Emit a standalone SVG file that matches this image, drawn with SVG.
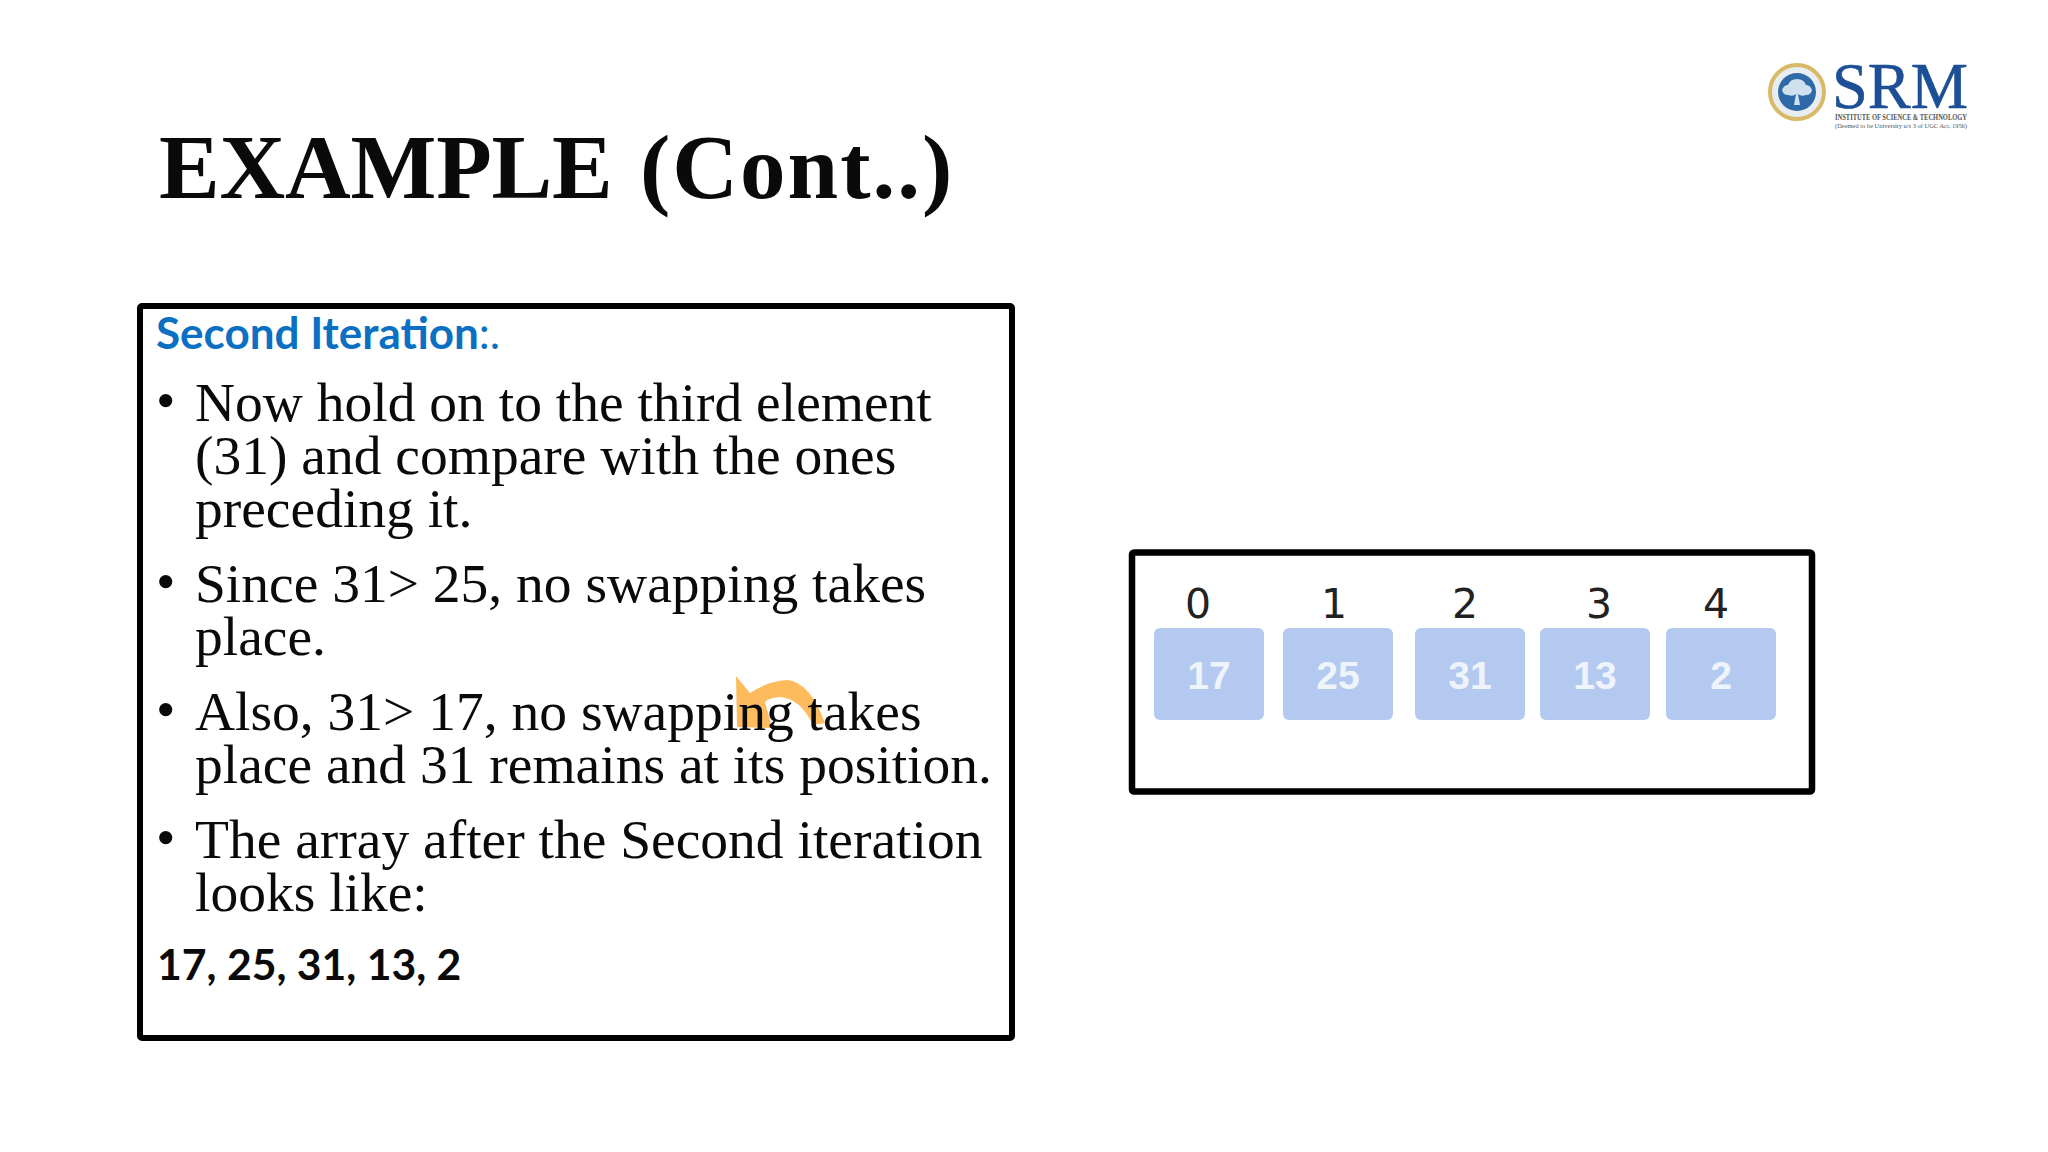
<svg xmlns="http://www.w3.org/2000/svg" width="2048" height="1152" viewBox="0 0 2048 1152">
<style>
.t{font-family:"Liberation Serif","Times New Roman",serif;font-size:55.5px;fill:#0a0a0a}
.f{fill:none;stroke:#000;stroke-width:6}
.c{fill:#b4c9ef}
.v{font-family:"Liberation Sans",Arial,sans-serif;font-size:39px;font-weight:bold;fill:#eef3fc;text-anchor:middle}
.i{font-family:"DejaVu Sans",sans-serif;font-size:41px;fill:#222;text-anchor:middle}
</style>
<rect width="2048" height="1152" fill="#fff"/>
<g id="logo">
<circle cx="1797" cy="92" r="27" fill="#e6eef4" stroke="#d9b866" stroke-width="4"/>
<circle cx="1797" cy="92" r="19" fill="#2f6aa8"/>
<path d="M1782 90q2-5 6-5q2-6 9-6q7 0 9 6q4 0 6 5q-1 5-6 5q-5 2-8-1l2 11h-6l2-11q-3 3-8 1q-5 0-6-5z" fill="#cfe0ee"/>
<text x="1832" y="108" font-family="Liberation Serif,serif" font-size="66" fill="#1c4f96" stroke="#1c4f96" stroke-width="0.6" textLength="136" lengthAdjust="spacingAndGlyphs">SRM</text>
<text x="1835" y="120" font-family="Liberation Serif,serif" font-size="8" font-weight="bold" fill="#555" textLength="132" lengthAdjust="spacingAndGlyphs">INSTITUTE OF SCIENCE &amp; TECHNOLOGY</text>
<text x="1835" y="128" font-family="Liberation Serif,serif" font-size="7" fill="#555" textLength="132" lengthAdjust="spacingAndGlyphs">(Deemed to be University u/s 3 of UGC Act, 1956)</text>
</g>
<text id="title" x="159" y="198" font-family="Liberation Serif,serif" font-size="91" font-weight="bold" fill="#0a0a0a"><tspan letter-spacing="-0.2">EXAMPLE</tspan> <tspan x="640" letter-spacing="2">(Cont..)</tspan></text>
<g id="text-panel">
<rect class="f" x="140" y="306" width="872" height="732" rx="2"/>
<text x="156" y="349" font-family="Lato,sans-serif" font-size="44" font-weight="bold" fill="#0b6fc2">Second Iteration<tspan font-weight="normal">:.</tspan></text>
<path id="arrow" d="M736 676L750 693Q768 681 787 680Q810 682 825 723L813 725Q800 698 780 697Q768 698 765 702L772 728L737 727Z" fill="#fdbb5e"/>
<g class="t">
<text x="156" y="419">•</text><text x="195" y="421">Now hold on to the third element</text>
<text x="195" y="474">(31) and compare with the ones</text>
<text x="195" y="527">preceding it.</text>
<text x="156" y="600">•</text><text x="195" y="602">Since 31&gt; 25, no swapping takes</text>
<text x="195" y="655">place.</text>
<text x="156" y="728">•</text><text x="195" y="730">Also, 31&gt; 17, no swapping takes</text>
<text x="195" y="783">place and 31 remains at its position.</text>
<text x="156" y="856">•</text><text x="195" y="858">The array after the Second iteration</text>
<text x="195" y="911">looks like:</text>
</g>
<text x="157" y="980" font-family="Lato,sans-serif" font-size="42.7" font-weight="bold" fill="#0a0a0a">17, 25, 31, 13, 2</text>
</g>
<g id="array-panel">
<rect class="f" x="1132" y="552.5" width="680" height="239" rx="2" style="stroke-width:6.5"/>
<g id="cell-0"><text class="i" x="1198" y="618">0</text><rect class="c" x="1154" y="628" width="110" height="92" rx="6"/><text class="v" x="1209" y="689">17</text></g>
<g id="cell-1"><text class="i" x="1334" y="618">1</text><rect class="c" x="1283" y="628" width="110" height="92" rx="6"/><text class="v" x="1338" y="689">25</text></g>
<g id="cell-2"><text class="i" x="1465" y="618">2</text><rect class="c" x="1415" y="628" width="110" height="92" rx="6"/><text class="v" x="1470" y="689">31</text></g>
<g id="cell-3"><text class="i" x="1599" y="618">3</text><rect class="c" x="1540" y="628" width="110" height="92" rx="6"/><text class="v" x="1595" y="689">13</text></g>
<g id="cell-4"><text class="i" x="1716" y="618">4</text><rect class="c" x="1666" y="628" width="110" height="92" rx="6"/><text class="v" x="1721" y="689">2</text></g>
</g>
</svg>
